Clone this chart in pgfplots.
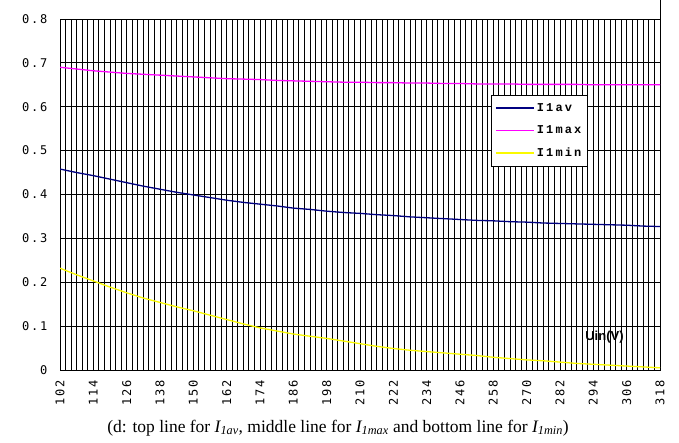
\documentclass[border=0pt]{standalone}
\usepackage{pgfplots}
\usepackage{pgfplotstable}
\pgfplotsset{compat=1.18}
\usepackage{fontspec}
\setmainfont{Liberation Serif}
\newfontfamily\tickfont[LetterSpace=15]{DejaVu Sans Mono}
\newfontfamily\legfont[LetterSpace=18]{Liberation Mono}
\newfontfamily\sansb{Liberation Sans}
\definecolor{navyline}{RGB}{0,0,128}
\definecolor{magline}{RGB}{255,0,255}
\definecolor{yelline}{RGB}{250,250,0}
\pgfplotstableread{
x av max min
102 0.458 0.690 0.232
108 0.450 0.686 0.217
114 0.443 0.682 0.203
120 0.435 0.679 0.189
126 0.427 0.676 0.176
132 0.419 0.674 0.164
138 0.412 0.672 0.154
144 0.405 0.670 0.144
150 0.399 0.668 0.135
156 0.393 0.666 0.125
162 0.387 0.664 0.115
168 0.382 0.663 0.105
174 0.378 0.662 0.096
180 0.374 0.660 0.089
186 0.369 0.659 0.082
192 0.366 0.658 0.077
198 0.362 0.657 0.072
204 0.359 0.656 0.066
210 0.357 0.656 0.060
216 0.354 0.655 0.054
222 0.352 0.655 0.049
228 0.349 0.654 0.045
234 0.347 0.654 0.042
240 0.345 0.653 0.039
246 0.343 0.653 0.036
252 0.341 0.652 0.033
258 0.340 0.652 0.029
264 0.338 0.652 0.026
270 0.337 0.651 0.023
276 0.335 0.651 0.021
282 0.334 0.651 0.018
288 0.333 0.651 0.015
294 0.332 0.650 0.013
300 0.331 0.650 0.011
306 0.330 0.650 0.009
312 0.328 0.650 0.007
318 0.327 0.650 0.005
}\data
\begin{document}
\begin{tikzpicture}[x=1pt,y=1pt]
\useasboundingbox (0,0) rectangle (679,443);
\begin{axis}[
  name=ax,
  at={(60pt,73pt)}, anchor=south west,
  scale only axis, width=600pt, height=351pt,
  xmin=102, xmax=318, ymin=0, ymax=0.8,
  xtick={102,114,...,318},
  xticklabels={102,114,126,138,150,162,174,186,198,210,222,234,246,258,270,282,294,306,318},
  minor xtick={102,104,...,318},
  ytick={0,0.1,...,0.8},
  yticklabels={0,0.1,0.2,0.3,0.4,0.5,0.6,0.7,0.8},
  major tick length=0pt, minor tick length=0pt,
  xmajorgrids, xminorgrids, ymajorgrids,
  major grid style={black, line width=0.9pt},
  minor grid style={black, line width=0.9pt},
  axis line style={black, line width=0.9pt},
  xticklabel style={rotate=90, anchor=east, xshift=-7pt, font=\tickfont\fontsize{12}{12}\selectfont},
  yticklabel style={xshift=-9pt, font=\tickfont\fontsize{12}{12}\selectfont},
  legend style={at={(0.718,0.783)}, anchor=north west, draw=black,
    fill=white, font=\legfont\bfseries\fontsize{12}{12}\selectfont,
    row sep=9pt, inner xsep=4pt, inner ysep=6pt},
  legend cell align=left,
]
\addplot[navyline, line width=1.3pt, legend image code/.code={\draw[navyline, line width=1.8pt] (0pt,0pt) -- (38pt,0pt);}] table[x=x,y=av]{\data};
\addlegendentry{I1av}
\addplot[magline, line width=1.3pt, legend image code/.code={\draw[magline, line width=1.8pt] (0pt,0pt) -- (38pt,0pt);}] table[x=x,y=max]{\data};
\addlegendentry{I1max}
\addplot[yelline, line width=1.3pt, legend image code/.code={\draw[yelline, line width=1.8pt] (0pt,0pt) -- (38pt,0pt);}] table[x=x,y=min]{\data};
\addlegendentry{I1min}
\node[font=\sansb\bfseries\fontsize{13}{13}\selectfont] at (axis cs:298,0.075) {Uin(V)};
\end{axis}
\draw[black, line width=0.9pt] (ax.north east) -- ++(0,19);
\node[font=\fontsize{17.5}{18}\selectfont] at (338,15) {(d: top line for \textit{I\textsubscript{1av}}, middle line for \textit{I\textsubscript{1max}} and bottom line for \textit{I\textsubscript{1min}})};
\end{tikzpicture}
\end{document}
